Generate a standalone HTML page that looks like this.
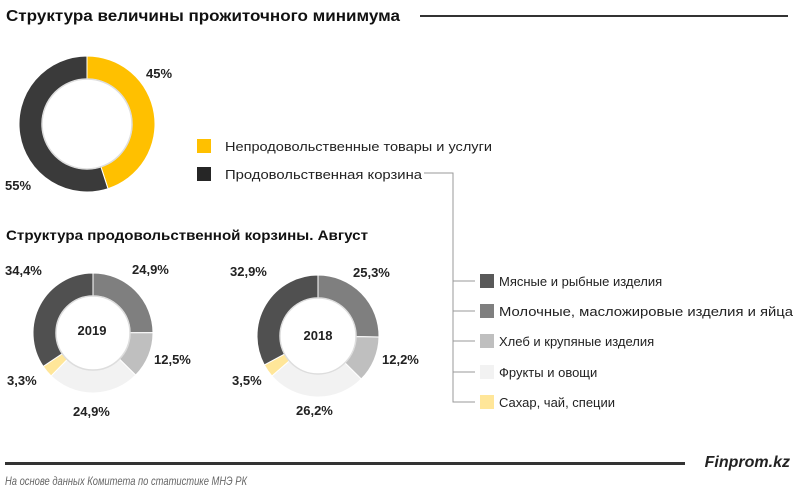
<!DOCTYPE html>
<html><head><meta charset="utf-8"><style>
body{margin:0;width:800px;height:494px;background:#fff;overflow:hidden;font-family:"Liberation Sans","DejaVu Sans",sans-serif}
svg{position:absolute;left:0;top:0}
</style></head><body>
<svg width="800" height="494" xmlns="http://www.w3.org/2000/svg" id="s">
<text x="6" y="21" font-size="16" font-weight="bold" fill="#111" textLength="394" lengthAdjust="spacingAndGlyphs">Структура величины прожиточного минимума</text>
<rect x="420" y="15" width="368" height="2" fill="#333"/>
<g font-size="13" font-weight="bold" fill="#222">
<text x="146" y="78">45%</text>
<text x="5" y="190">55%</text>
</g>
<rect x="197" y="139" width="14" height="14" fill="#ffc000"/>
<rect x="197" y="167" width="14" height="14" fill="#262626"/>
<g font-size="13" fill="#222">
<text x="225" y="151" textLength="267" lengthAdjust="spacingAndGlyphs">Непродовольственные товары и услуги</text>
<text x="225" y="179" textLength="197" lengthAdjust="spacingAndGlyphs">Продовольственная корзина</text>
</g>
<polyline points="424,173 453,173 453,402 475,402" fill="none" stroke="#999" stroke-width="1"/>
<g stroke="#999" stroke-width="1">
<line x1="453" y1="281" x2="475" y2="281"/><line x1="453" y1="311" x2="475" y2="311"/>
<line x1="453" y1="341" x2="475" y2="341"/><line x1="453" y1="372" x2="475" y2="372"/>
</g>
<rect x="480" y="274" width="14" height="14" fill="#595959"/>
<rect x="480" y="304" width="14" height="14" fill="#7f7f7f"/>
<rect x="480" y="334" width="14" height="14" fill="#bfbfbf"/>
<rect x="480" y="365" width="14" height="14" fill="#f2f2f2"/>
<rect x="480" y="395" width="14" height="14" fill="#ffe699"/>
<g font-size="13" fill="#222">
<text x="499" y="286">Мясные и рыбные изделия</text>
<text x="499" y="316" font-size="12.5" textLength="294" lengthAdjust="spacingAndGlyphs">Молочные, масложировые изделия и яйца</text>
<text x="499" y="346">Хлеб и  крупяные изделия</text>
<text x="499" y="377">Фрукты и овощи</text>
<text x="499" y="407">Сахар, чай, специи</text>
</g>
<text x="6" y="240" font-size="14" font-weight="bold" fill="#111" textLength="362" lengthAdjust="spacingAndGlyphs">Структура  продовольственной  корзины.  Август</text>
<g font-size="13" font-weight="bold" fill="#222">
<text x="5" y="275">34,4%</text><text x="132" y="274">24,9%</text>
<text x="154" y="364">12,5%</text><text x="7" y="385">3,3%</text>
<text x="73" y="416">24,9%</text>
<text x="92" y="335" text-anchor="middle">2019</text>
<text x="230" y="276">32,9%</text><text x="353" y="277">25,3%</text>
<text x="382" y="364">12,2%</text><text x="232" y="385">3,5%</text>
<text x="296" y="415">26,2%</text>
<text x="318" y="340" text-anchor="middle">2018</text>
</g>
<rect x="5" y="462" width="680" height="3" fill="#333"/>
<text x="790" y="467" font-size="16" font-weight="bold" font-style="italic" fill="#222" text-anchor="end">Finprom.kz</text>
<text x="5" y="485" font-size="12" font-style="italic" fill="#666" textLength="242" lengthAdjust="spacingAndGlyphs">На основе данных  Комитета по статистике МНЭ РК</text>
</svg>
<script>
var s=document.getElementById('s'),NS='http://www.w3.org/2000/svg';
function donut(cx,cy,ro,ri,vals,cols){
 var a=-Math.PI/2,tot=vals.reduce(function(p,c){return p+c},0),g=document.createElementNS(NS,'g');
 vals.forEach(function(v,i){
  var b=a+v/tot*2*Math.PI,l=(b-a)>Math.PI?1:0;
  var d='M'+(cx+ro*Math.cos(a))+','+(cy+ro*Math.sin(a))+'A'+ro+','+ro+' 0 '+l+' 1 '+(cx+ro*Math.cos(b))+','+(cy+ro*Math.sin(b))+
  'L'+(cx+ri*Math.cos(b))+','+(cy+ri*Math.sin(b))+'A'+ri+','+ri+' 0 '+l+' 0 '+(cx+ri*Math.cos(a))+','+(cy+ri*Math.sin(a))+'Z';
  var p=document.createElementNS(NS,'path');p.setAttribute('d',d);p.setAttribute('fill',cols[i]);p.setAttribute('stroke','#fff');p.setAttribute('stroke-width','1');
  g.appendChild(p);a=b;});
 var c=document.createElementNS(NS,'circle');c.setAttribute('cx',cx);c.setAttribute('cy',cy);c.setAttribute('r',ri);c.setAttribute('fill','none');c.setAttribute('stroke','#ddd');c.setAttribute('stroke-width','1.5');g.appendChild(c);
 s.insertBefore(g,s.firstChild);
}
var fc=['#7f7f7f','#bfbfbf','#f2f2f2','#ffe699','#505050'];
donut(87,124,68,45,[45,55],['#ffc000','#3a3a3a']);
donut(93,333,60,37,[24.9,12.5,24.9,3.3,34.4],fc);
donut(318,336,61,38,[25.3,12.2,26.2,3.5,32.9],fc);
</script>
</body></html>
